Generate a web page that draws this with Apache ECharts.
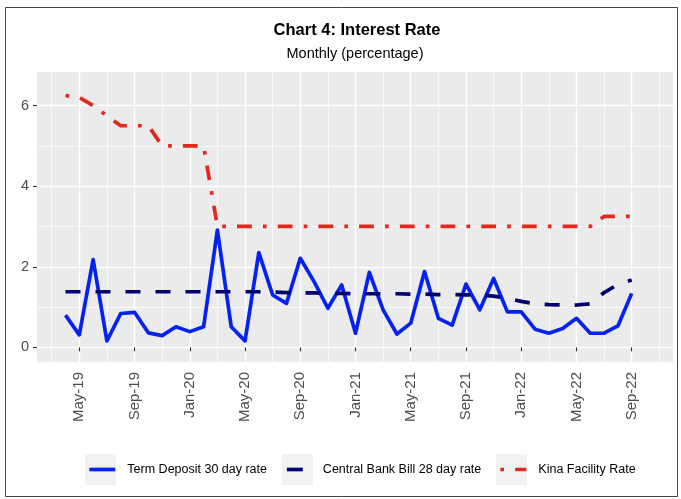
<!DOCTYPE html>
<html>
<head>
<meta charset="utf-8">
<script src="https://cdn.jsdelivr.net/npm/echarts@6/dist/echarts.min.js"></script>
<style>html,body{margin:0;padding:0;background:#fff;}#c{width:681px;height:499px;}</style>
</head>
<body>
<div id="c"></div>
<script>
const months = [
 '2019-04','2019-05','2019-06','2019-07','2019-08','2019-09','2019-10','2019-11','2019-12',
 '2020-01','2020-02','2020-03','2020-04','2020-05','2020-06','2020-07','2020-08','2020-09','2020-10','2020-11','2020-12',
 '2021-01','2021-02','2021-03','2021-04','2021-05','2021-06','2021-07','2021-08','2021-09','2021-10','2021-11','2021-12',
 '2022-01','2022-02','2022-03','2022-04','2022-05','2022-06','2022-07','2022-08','2022-09'
];
const termDeposit = [
 0.80,0.31,2.18,0.16,0.84,0.87,0.36,0.29,0.51,
 0.39,0.51,2.91,0.51,0.16,2.35,1.30,1.09,2.21,1.63,0.97,1.55,
 0.35,1.86,0.93,0.33,0.60,1.88,0.72,0.55,1.57,0.93,1.71,0.88,
 0.88,0.45,0.35,0.47,0.72,0.35,0.35,0.53,1.34
];
const centralBankBill = [
 1.38,1.38,1.38,1.38,1.38,1.38,1.38,1.38,1.38,
 1.38,1.38,1.38,1.38,1.38,1.38,1.37,1.36,1.35,1.35,1.34,1.34,
 1.33,1.33,1.33,1.33,1.32,1.32,1.31,1.31,1.30,1.30,1.27,1.22,
 1.14,1.08,1.06,1.05,1.05,1.08,1.36,1.56,1.67
];
const kinaFacility = [
 6.25,6.20,6.00,5.75,5.50,5.50,5.50,5.00,5.00,
 5.00,5.00,3.00,3.00,3.00,3.00,3.00,3.00,3.00,3.00,3.00,3.00,
 3.00,3.00,3.00,3.00,3.00,3.00,3.00,3.00,3.00,3.00,3.00,3.00,
 3.00,3.00,3.00,3.00,3.00,3.00,3.25,3.25,3.25
];
const seriesNames = ['Term Deposit 30 day rate','Central Bank Bill 28 day rate','Kina Facility Rate'];
const xTickMonths = ['2019-05','2019-09','2020-01','2020-05','2020-09','2021-01','2021-05','2021-09','2022-01','2022-05','2022-09'];
const xTickLabels = ['May-19','Sep-19','Jan-20','May-20','Sep-20','Jan-21','May-21','Sep-21','Jan-22','May-22','Sep-22'];
const xMinorMonths = ['2019-03','2019-07','2019-11','2020-03','2020-07','2020-11','2021-03','2021-07','2021-11','2022-03','2022-07','2022-11'];
const yTicks = [0,2,4,6];
const yMinorTicks = [1,3,5];

function mIdx(s){const p=s.split('-');return (parseInt(p[0])-2019)*12+parseInt(p[1])-1;}
const xTickVals = xTickMonths.map(mIdx);
const xMinorVals = xMinorMonths.map(mIdx);
function pairs(arr){return months.map((m,i)=>[mIdx(m),arr[i]]);}

const FONT = 'Liberation Sans, Arial, Helvetica, sans-serif';
const LW = 3.7;
const chart = echarts.init(document.getElementById('c'), null, {renderer:'canvas'});
const xMin = 0.937, xMax = 46.99, yMin = -0.364, yMax = 6.834;

function legend(name, left, w, pad, solid){
  const ls = {width:LW, cap:'butt'};
  if (solid) ls.type = 'solid';
  return {
    data:[name], left:left, top:463, orient:'horizontal', padding:0,
    itemWidth:w, itemHeight:14,
    itemStyle:{opacity:0},
    lineStyle:ls,
    textStyle:{fontFamily:FONT, fontSize:12.5, color:'#000', padding:[0,0,0,pad]},
    selectedMode:false
  };
}

chart.setOption({
  animation:false,
  textStyle:{fontFamily:FONT},
  grid:{left:37, right:8, top:72, bottom:137, show:true, backgroundColor:'#EBEBEB', borderWidth:0, containLabel:false},
  xAxis:[{
    type:'value', min:xMin, max:xMax, position:'bottom',
    axisLine:{show:false},
    axisTick:{show:true, length:4, lineStyle:{color:'#333', width:1.1}, customValues:xTickVals},
    axisLabel:{show:true, rotate:90, margin:10, fontSize:15, color:'#4D4D4D', fontFamily:FONT,
      customValues:xTickVals,
      formatter:function(v){const i=xTickVals.indexOf(Math.round(v));return i>=0?xTickLabels[i]:'';}},
    splitLine:{show:true, lineStyle:{color:'#FFFFFF', width:1.4}}
  },{
    type:'value', min:xMin, max:xMax, position:'top',
    axisLine:{show:false}, axisLabel:{show:false},
    axisTick:{show:false, customValues:xMinorVals},
    splitLine:{show:true, lineStyle:{color:'#FFFFFF', width:0.7}}
  }],
  yAxis:[{
    type:'value', min:yMin, max:yMax, position:'left',
    axisLine:{show:false},
    axisTick:{show:true, length:4, lineStyle:{color:'#333', width:1.1}, customValues:yTicks},
    axisLabel:{show:true, margin:8, fontSize:14.5, color:'#4D4D4D', fontFamily:FONT, customValues:yTicks,
      formatter:function(v){return String(Math.round(v));}},
    splitLine:{show:true, lineStyle:{color:'#FFFFFF', width:1.4}}
  },{
    type:'value', min:yMin, max:yMax, position:'right',
    axisLine:{show:false}, axisLabel:{show:false},
    axisTick:{show:false, customValues:yMinorTicks},
    splitLine:{show:true, lineStyle:{color:'#FFFFFF', width:0.7}}
  }],
  legend:[legend(seriesNames[0],87.5,26,7,false), legend(seriesNames[1],285,16,15,true), legend(seriesNames[2],498.5,26,7,false)],
  graphic:[
    {type:'rect', z:-10, shape:{x:85,y:454,width:31,height:31}, style:{fill:'#F2F2F2'}},
    {type:'rect', z:-10, shape:{x:282,y:454,width:31,height:31}, style:{fill:'#F2F2F2'}},
    {type:'rect', z:-10, shape:{x:496,y:454,width:31,height:31}, style:{fill:'#F2F2F2'}},
    {type:'text', x:357, y:30, style:{text:'Chart 4: Interest Rate', fontFamily:FONT, fontSize:16.5, fontWeight:'bold', fill:'#000', align:'center', verticalAlign:'middle'}},
    {type:'text', x:355, y:54, style:{text:'Monthly (percentage)', fontFamily:FONT, fontSize:14.5, fill:'#000', align:'center', verticalAlign:'middle'}},
    {type:'rect', shape:{x:5.5,y:7.5,width:672,height:489}, style:{fill:'none', stroke:'#444', lineWidth:1}}
  ],
  series:[
    {name:seriesNames[0], type:'line', data:pairs(termDeposit), symbol:'none', z:2,
      lineStyle:{color:'#0522EE', width:LW, cap:'butt', join:'round'}, itemStyle:{color:'#0522EE'}},
    {name:seriesNames[1], type:'line', data:pairs(centralBankBill), symbol:'none', z:3,
      lineStyle:{color:'#000070', width:LW, type:[15,15], cap:'butt', join:'round'}, itemStyle:{color:'#000070'}},
    {name:seriesNames[2], type:'line', data:pairs(kinaFacility), symbol:'none', z:4,
      lineStyle:{color:'#E3281E', width:LW, type:[3.7,11.1,14.8,11.1], cap:'butt', join:'round'}, itemStyle:{color:'#E3281E'}}
  ]
});
</script>
</body>
</html>
